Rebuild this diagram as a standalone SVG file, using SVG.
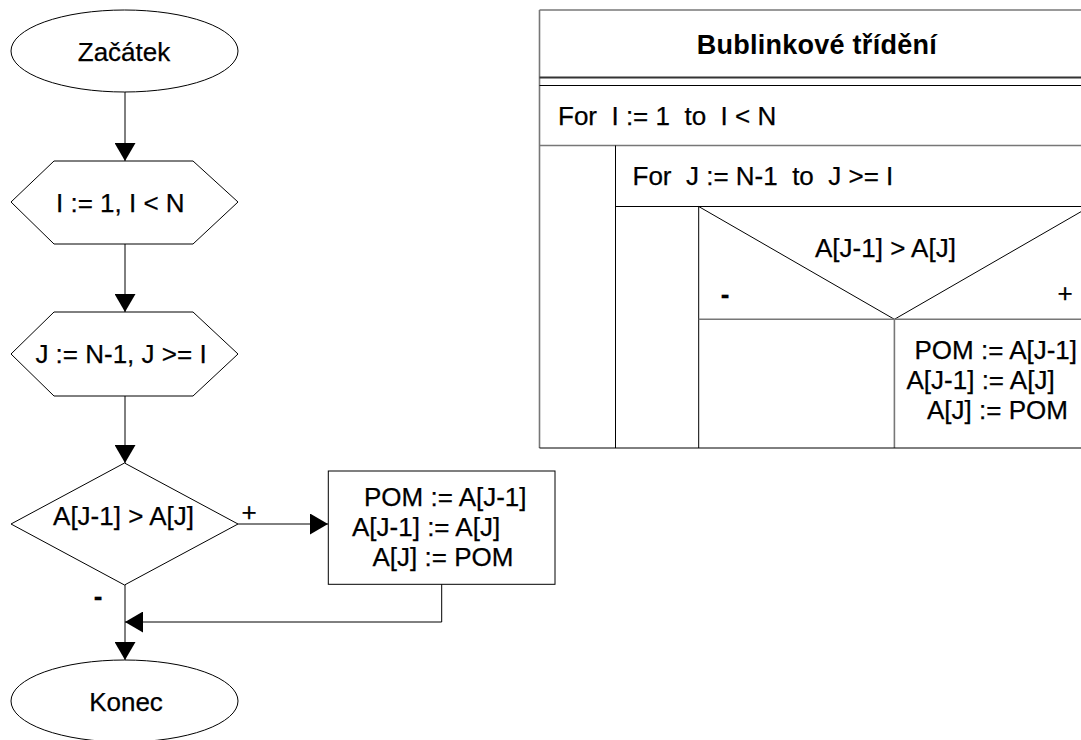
<svg xmlns="http://www.w3.org/2000/svg" width="1081" height="740" viewBox="0 0 1081 740">
  <style>
    text { font-family: "Liberation Sans", Arial, sans-serif; font-size: 26px; fill: #000; stroke: #000; stroke-width: 0.25; white-space: pre; }
    .c { text-anchor: middle; }
    .title { font-weight: bold; font-size: 27px; stroke-width: 0; }
    .minus { font-weight: bold; }
    .shape { fill: #fff; stroke: #000; stroke-width: 1; }
    .conn { fill: none; stroke: #000; stroke-width: 1; }
    .ns { stroke: #000; stroke-width: 1; fill: none; }
    .ns-g { stroke: #777; stroke-width: 1.6; fill: none; }
    .ns-d { stroke: #333; stroke-width: 2; fill: none; }
  </style>
  <defs>
    <marker id="arrow" viewBox="0 0 18 21" refX="18" refY="10.5" markerWidth="18" markerHeight="21" orient="auto" markerUnits="userSpaceOnUse">
      <path d="M0,0 L18,10.5 L0,21 Z" fill="#000"/>
    </marker>
  </defs>
  <rect width="1081" height="740" fill="#fff"/>

  <!-- flowchart connectors -->
  <g id="connectors">
    <line class="conn" x1="125" y1="92" x2="125" y2="161" marker-end="url(#arrow)"/>
    <line class="conn" x1="125" y1="244" x2="125" y2="312" marker-end="url(#arrow)"/>
    <line class="conn" x1="125" y1="396" x2="125" y2="463" marker-end="url(#arrow)"/>
    <line class="conn" x1="238" y1="524" x2="328" y2="524" marker-end="url(#arrow)"/>
    <polyline class="conn" points="441.7,584 441.7,622 125,622" marker-end="url(#arrow)"/>
    <line class="conn" x1="125" y1="585" x2="125" y2="660" marker-end="url(#arrow)"/>
    <text class="c" x="249" y="521">+</text>
    <text class="c minus" x="98" y="605">-</text>
  </g>

  <!-- flowchart nodes -->
  <g id="start">
    <ellipse class="shape" cx="124.5" cy="51" rx="113.5" ry="41"/>
    <text class="c" x="124" y="61">Začátek</text>
  </g>
  <g id="loop-i">
    <polygon class="shape" points="11,202 54,161 193,161 238,202 193,244 54,244"/>
    <text class="c" x="120.3" y="212">I := 1, I &lt; N</text>
  </g>
  <g id="loop-j">
    <polygon class="shape" points="11,354 54,312 193,312 238,354 193,396 54,396"/>
    <text class="c" x="121" y="363">J := N-1, J &gt;= I</text>
  </g>
  <g id="compare">
    <polygon class="shape" points="124.5,463 238,524 124.5,585 11,524"/>
    <text class="c" x="123.5" y="525">A[J-1] &gt; A[J]</text>
  </g>
  <g id="swap">
    <rect class="shape" x="328.3" y="471" width="226.7" height="113.3"/>
    <text x="364" y="506">POM := A[J-1]</text>
    <text x="352" y="536">A[J-1] := A[J]</text>
    <text x="372.5" y="566">A[J] := POM</text>
  </g>
  <g id="end">
    <ellipse class="shape" cx="124.5" cy="701" rx="113.5" ry="41"/>
    <text class="c" x="126" y="711">Konec</text>
  </g>

  <!-- structogram of the same algorithm -->
  <g id="structogram">
    <line class="ns-g" x1="539.5" y1="10" x2="1081" y2="10"/>
    <line class="ns-g" x1="539.5" y1="10" x2="539.5" y2="448"/>
    <line class="ns-d" x1="539.5" y1="77.5" x2="1081" y2="77.5"/>
    <line class="ns" x1="539.5" y1="85.5" x2="1081" y2="85.5"/>
    <line class="ns-g" x1="539.5" y1="145.5" x2="1081" y2="145.5"/>
    <line class="ns" x1="615.5" y1="145.5" x2="615.5" y2="448"/>
    <line class="ns" x1="615.5" y1="206.5" x2="1081" y2="206.5"/>
    <line class="ns" x1="698.7" y1="206.5" x2="698.7" y2="448"/>
    <polyline class="ns" points="698.7,206.5 894.4,319.3 1090,206.5"/>
    <line class="ns-g" x1="698.7" y1="319.3" x2="1081" y2="319.3"/>
    <line class="ns-g" x1="894.4" y1="319.3" x2="894.4" y2="448"/>
    <line class="ns" x1="539.5" y1="448" x2="1081" y2="448"/>

    <text class="c title" x="816.7" y="54" textLength="240">Bublinkové třídění</text>
    <text x="558" y="124.5">For  I := 1  to  I &lt; N</text>
    <text x="632.5" y="185">For  J := N-1  to  J &gt;= I</text>
    <text x="815" y="257">A[J-1] &gt; A[J]</text>
    <text class="c minus" x="725" y="302.5">-</text>
    <text class="c" x="1065" y="302">+</text>
    <text x="914.5" y="359">POM := A[J-1]</text>
    <text x="906.5" y="389">A[J-1] := A[J]</text>
    <text x="927" y="419">A[J] := POM</text>
  </g>
</svg>
